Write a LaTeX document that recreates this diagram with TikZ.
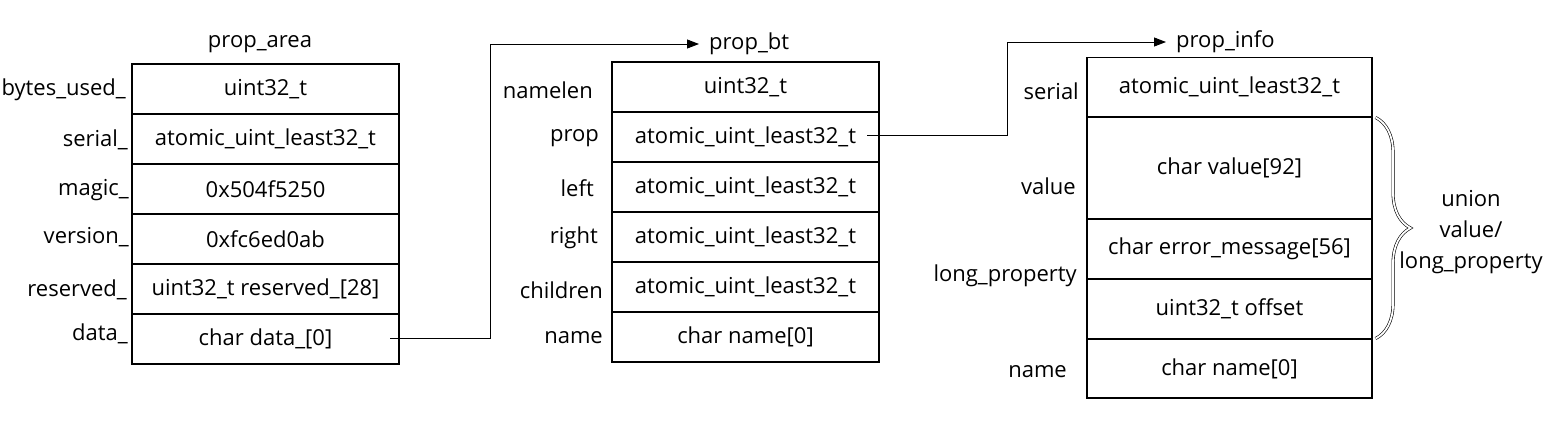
\documentclass[tikz,border=0pt]{standalone}
\usepackage{fontspec}
\setmainfont{Open Sans}
\usetikzlibrary{arrows.meta,decorations.pathreplacing}

\tikzset{
  txt/.style={font=\fontsize{22}{26}\selectfont, inner sep=2pt},
  cell/.style={txt, draw, line width=1.1pt, inner sep=0pt, minimum height=50pt},
  field/.style={txt, anchor=east},
  title/.style={txt, anchor=west, inner xsep=10pt},
  link/.style={line width=0.9pt, -{Triangle[length=12pt,width=9pt]}},
}

\begin{document}
\begin{tikzpicture}[x=1pt,y=-1pt]
    \useasboundingbox (0,0) rectangle (1548,424);

    % prop_area: header block
    \node[txt] (ttl_area) at (260,44) {prop\_area};
    \node[cell,minimum width=267pt] (pa_used) at (265.5,89)  {uint32\_t};
    \node[cell,minimum width=267pt] (pa_serial) at (265.5,139) {atomic\_uint\_least32\_t};
    \node[cell,minimum width=267pt] (pa_magic) at (265.5,189) {0x504f5250};
    \node[cell,minimum width=267pt] (pa_version) at (265.5,239) {0xfc6ed0ab};
    \node[cell,minimum width=267pt] (pa_reserved) at (265.5,289) {uint32\_t reserved\_[28]};
    \node[cell,minimum width=267pt] (pa_data) at (265.5,339) {char data\_[0]};

    \node[field] at (128,90)  {bytes\_used\_};
    \node[field] at (130,140) {serial\_};
    \node[field] at (131,190) {magic\_};
    \node[field] at (131,237) {version\_};
    \node[field] at (129,290) {reserved\_};
    \node[field] at (130,334) {data\_};

    % prop_bt: trie node
    \node[title] (ttl_bt) at (699,44) {prop\_bt};
    \node[cell,minimum width=267pt] (bt_namelen) at (745.5,87)  {uint32\_t};
    \node[cell,minimum width=267pt] (bt_prop) at (745.5,137) {atomic\_uint\_least32\_t};
    \node[cell,minimum width=267pt] (bt_left) at (745.5,187) {atomic\_uint\_least32\_t};
    \node[cell,minimum width=267pt] (bt_right) at (745.5,237) {atomic\_uint\_least32\_t};
    \node[cell,minimum width=267pt] (bt_children) at (745.5,287) {atomic\_uint\_least32\_t};
    \node[cell,minimum width=267pt] (bt_name) at (745.5,337) {char name[0]};

    \node[field] at (595,90)  {namelen};
    \node[field] at (601,138) {prop};
    \node[field] at (596,188) {left};
    \node[field] at (600,238) {right};
    \node[field] at (605,290) {children};
    \node[field] at (605,338) {name};

    % prop_info: value record
    \node[title] (ttl_info) at (1166,42) {prop\_info};
    \node[cell,minimum width=285pt,minimum height=59.5pt] (pi_serial) at (1229.5,87.25) {atomic\_uint\_least32\_t};
    \node[cell,minimum width=285pt,minimum height=102pt] (pi_value) at (1229.5,168) {char value[92]};
    \node[cell,minimum width=285pt,minimum height=60pt] (pi_error) at (1229.5,249) {char error\_message[56]};
    \node[cell,minimum width=285pt,minimum height=60pt] (pi_offset) at (1229.5,309) {uint32\_t offset};
    \node[cell,minimum width=285pt,minimum height=59pt] (pi_name) at (1229.5,368.5) {char name[0]};

    \node[field] at (1081,91)  {serial};
    \node[field] at (1078,186) {value};
    \node[field] at (1079,276) {long\_property};
    \node[field] at (1069,372) {name};

    % union brace
    \draw[decorate,decoration={brace,amplitude=35pt},line width=0.6pt,
          draw=black,double=white,double distance=1.8pt]
        (pi_value.north east) ++(3,1) coordinate (br_top)
        (pi_offset.south east) ++(3,-1) coordinate (br_bot)
        (br_top) -- (br_bot);
    \node[txt,align=center,font=\fontsize{22}{31}\selectfont] (union) at (1471,232) {union\\value/\\long\_property};

    % pointers
    \coordinate (data_ptr) at (390,338);
    \coordinate (prop_ptr) at (867,135);
    \draw[link] (data_ptr) -- ++(100,0) |- (ttl_bt.west);
    \draw[link] (prop_ptr) -- ++(140,0) |- (ttl_info.west);
\end{tikzpicture}
\end{document}
